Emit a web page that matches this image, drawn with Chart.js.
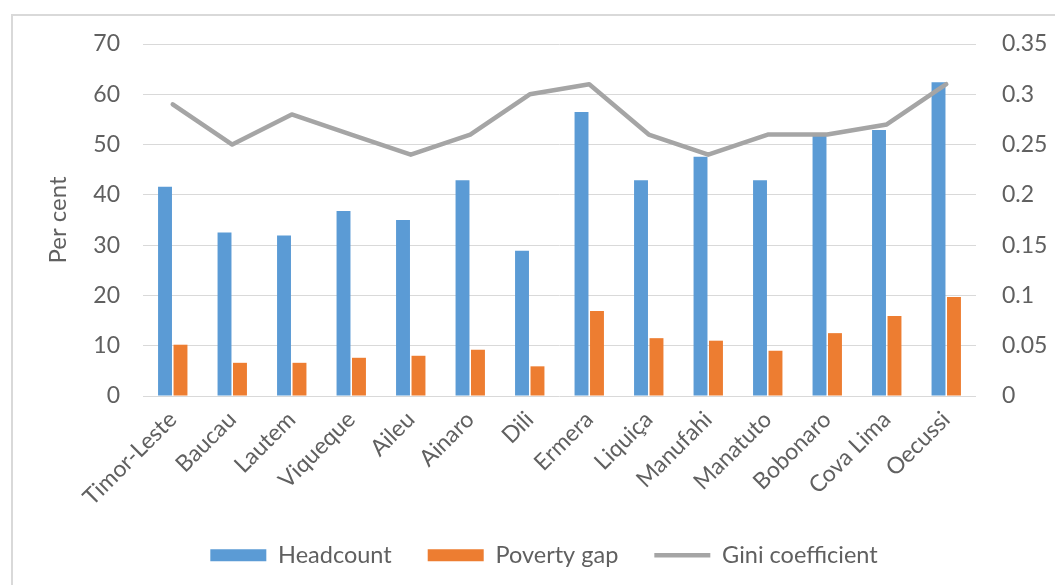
<!DOCTYPE html>
<html>
<head>
<meta charset="utf-8">
<script src="https://cdn.jsdelivr.net/npm/chart.js@4"></script>
<style>
  html, body { margin: 0; background: #fff; }
  #wrap { position: relative; width: 1055px; height: 585px; overflow: hidden; }
  #frame { position: absolute; left: 11px; top: 14px; width: 1100px; height: 600px;
           border-left: 2px solid #d9d9d9; border-top: 2px solid #d9d9d9; }
  #chart { position: absolute; left: 0; top: 0; }
</style>
</head>
<body>
<div id="wrap">
  <div id="frame"></div>
  <canvas id="chart" width="1055" height="585"></canvas>
</div>
<script>
const districts = ['Timor-Leste', 'Baucau', 'Lautem', 'Viqueque', 'Aileu', 'Ainaro', 'Dili',
  'Ermera', 'Liquiça', 'Manufahi', 'Manatuto', 'Bobonaro', 'Cova Lima', 'Oecussi'];
const headcount = [41.6, 32.5, 31.9, 36.8, 35.0, 42.9, 28.9, 56.5, 42.9, 47.6, 42.9, 51.7, 52.9, 62.4];
const povertyGap = [10.2, 6.6, 6.6, 7.6, 8.0, 9.2, 5.9, 16.9, 11.5, 11.0, 9.0, 12.5, 15.9, 19.7];
const gini = [0.29, 0.25, 0.28, 0.26, 0.24, 0.26, 0.30, 0.31, 0.26, 0.24, 0.26, 0.26, 0.27, 0.31];

const leftTicks = { min: 0, max: 70, step: 10 };
const rightTicks = { min: 0, max: 0.35, step: 0.05 };

const textColor = '#606060';
const gridColor = '#d9d9d9';
const fontFamily = 'Lato, "Noto Sans", sans-serif';

const ctx = document.getElementById('chart').getContext('2d');
new Chart(ctx, {
  type: 'bar',
  data: {
    labels: districts,
    datasets: [
      {
        label: 'Headcount',
        data: headcount,
        backgroundColor: '#5b9bd5',
        borderWidth: 0,
        pointStyle: 'rect',
        categoryPercentage: 0.52,
        barPercentage: 0.9,
        yAxisID: 'y',
        order: 1
      },
      {
        label: 'Poverty gap',
        data: povertyGap,
        backgroundColor: '#ed7d31',
        borderWidth: 0,
        pointStyle: 'rect',
        categoryPercentage: 0.52,
        barPercentage: 0.9,
        yAxisID: 'y',
        order: 1
      },
      {
        type: 'line',
        label: 'Gini coefficient',
        data: gini,
        borderColor: '#a5a5a5',
        backgroundColor: '#a5a5a5',
        borderWidth: 4.5,
        borderJoinStyle: 'round',
        borderCapStyle: 'round',
        pointRadius: 0,
        pointStyle: 'line',
        tension: 0,
        yAxisID: 'y2',
        order: 0
      }
    ]
  },
  options: {
    responsive: false,
    animation: false,
    layout: { padding: { left: 33, top: 44, right: 0, bottom: 8 } },
    plugins: {
      tooltip: { enabled: false },
      legend: {
        position: 'bottom',
        labels: {
          usePointStyle: true,
          pointStyleWidth: 56,
          boxHeight: 12,
          padding: 36,
          color: textColor,
          font: { family: fontFamily, size: 23.5 },
          sort: (a, b) => a.datasetIndex - b.datasetIndex
        }
      }
    },
    scales: {
      x: {
        offset: true,
        grid: { display: false },
        border: { display: false },
        ticks: {
          color: textColor,
          font: { family: fontFamily, size: 23 },
          minRotation: 45,
          maxRotation: 45,
          padding: 2,
          autoSkip: false
        },
        afterFit: s => { s.height = 111.5; }
      },
      y: {
        position: 'left',
        min: leftTicks.min,
        max: leftTicks.max,
        grid: { color: gridColor, lineWidth: 1, drawTicks: false },
        border: { display: false },
        ticks: {
          stepSize: leftTicks.step,
          color: textColor,
          font: { family: fontFamily, size: 23 },
          padding: 23
        },
        title: {
          display: true,
          text: 'Per cent',
          color: textColor,
          font: { family: fontFamily, size: 24 },
          padding: { top: 11, bottom: 0 }
        },
        afterFit: s => { s.width = 110; }
      },
      y2: {
        position: 'right',
        min: rightTicks.min,
        max: rightTicks.max,
        grid: { display: false, drawTicks: false },
        border: { display: false },
        ticks: {
          stepSize: rightTicks.step,
          color: textColor,
          font: { family: fontFamily, size: 23 },
          padding: 26,
          callback: v => String(parseFloat(v.toFixed(2)))
        },
        afterFit: s => { s.width = 79; }
      }
    }
  }
});
</script>
</body>
</html>
